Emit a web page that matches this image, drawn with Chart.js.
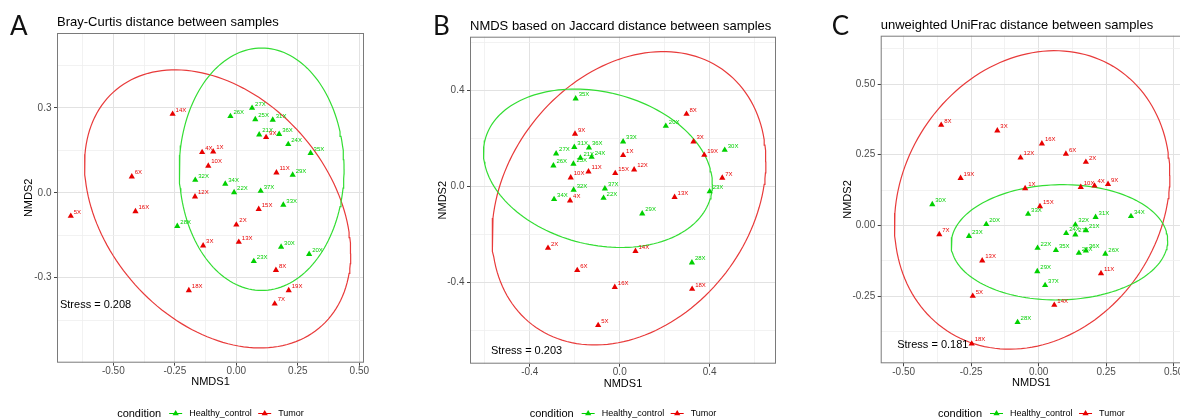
<!DOCTYPE html>
<html>
<head>
<meta charset="utf-8">
<script src="https://cdn.jsdelivr.net/npm/chart.js@4.4.1/dist/chart.umd.min.js"></script>
<style>
html, body { margin:0; padding:0; background:#fff; overflow:hidden; width:1180px; height:418px; }
canvas { position:absolute; top:0; }
</style>
</head>
<body>
<canvas id="cA" width="380" height="418" style="left:0"></canvas>
<canvas id="cB" width="400" height="418" style="left:380px"></canvas>
<canvas id="cC" width="410" height="418" style="left:780px"></canvas>
<script>
// NMDS ordinations, three distance metrics. Rows are [sample, NMDS1, NMDS2].
const A_HEALTHY = [
  ['26X',-0.024,0.270],['27X',0.064,0.299],['25X',0.077,0.259],['31X',0.148,0.257],
  ['21X',0.093,0.205],['36X',0.174,0.207],['24X',0.211,0.171],['35X',0.302,0.140],
  ['29X',0.229,0.063],['32X',-0.167,0.045],['34X',-0.045,0.031],['22X',-0.009,0.001],
  ['37X',0.099,0.006],['33X',0.191,-0.043],['28X',-0.240,-0.118],['30X',0.182,-0.191],
  ['20X',0.296,-0.217],['23X',0.071,-0.242]];
const A_TUMOR = [
  ['14X',-0.259,0.278],['4X',-0.139,0.143],['1X',-0.094,0.145],['10X',-0.114,0.095],
  ['6X',-0.425,0.057],['12X',-0.168,-0.014],['5X',-0.673,-0.082],['16X',-0.410,-0.066],
  ['3X',-0.135,-0.187],['9X',0.121,0.196],['11X',0.163,0.071],['15X',0.091,-0.058],
  ['2X',0.000,-0.113],['13X',0.010,-0.174],['8X',0.161,-0.273],['18X',-0.193,-0.345],
  ['19X',0.213,-0.345],['7X',0.156,-0.392]];

const B_HEALTHY = [
  ['35X',-0.196,0.365],['33X',0.015,0.186],['27X',-0.283,0.136],['31X',-0.202,0.163],
  ['36X',-0.137,0.161],['21X',-0.175,0.118],['24X',-0.125,0.122],['26X',-0.295,0.086],
  ['25X',-0.206,0.093],['32X',-0.205,-0.015],['37X',-0.066,-0.010],['34X',-0.292,-0.054],
  ['22X',-0.072,-0.049],['20X',0.205,0.251],['30X',0.467,0.151],['23X',0.400,-0.022],
  ['29X',0.100,-0.114],['28X',0.321,-0.318]];
const B_TUMOR = [
  ['9X',-0.199,0.218],['1X',0.015,0.129],['10X',-0.218,0.036],['11X',-0.139,0.061],
  ['15X',-0.020,0.054],['12X',0.064,0.069],['4X',-0.221,-0.060],['8X',0.297,0.301],
  ['3X',0.328,0.186],['19X',0.376,0.130],['7X',0.456,0.035],['13X',0.244,-0.045],
  ['2X',-0.319,-0.257],['14X',0.070,-0.270],['6X',-0.189,-0.350],['16X',-0.022,-0.420],
  ['18X',0.322,-0.428],['5X',-0.096,-0.579]];

const C_HEALTHY = [
  ['30X',-0.394,0.074],['20X',-0.194,0.004],['23X',-0.258,-0.038],['33X',-0.039,0.040],
  ['31X',0.211,0.029],['34X',0.342,0.032],['32X',0.136,0.002],['24X',0.102,-0.028],
  ['27X',0.136,-0.033],['21X',0.175,-0.018],['22X',-0.004,-0.080],['35X',0.064,-0.088],
  ['25X',0.149,-0.098],['36X',0.175,-0.090],['26X',0.247,-0.101],['29X',-0.005,-0.163],
  ['37X',0.024,-0.212],['28X',-0.078,-0.343]];
const C_TUMOR = [
  ['8X',-0.361,0.355],['19X',-0.289,0.167],['7X',-0.368,-0.032],['3X',-0.153,0.335],
  ['16X',0.012,0.289],['12X',-0.067,0.239],['6X',0.101,0.253],['2X',0.175,0.224],
  ['1X',-0.050,0.131],['10X',0.156,0.135],['4X',0.207,0.140],['9X',0.257,0.146],
  ['15X',0.005,0.067],['13X',-0.209,-0.125],['5X',-0.244,-0.250],['14X',0.058,-0.282],
  ['18X',-0.248,-0.419],['11X',0.231,-0.170]];

// confidence ellipses: [cx, cy, rx, ry, x-offset of top point / rx]
const A_ELL_HEALTHY = [0.103, 0.083, 0.335, 0.428, 0.00];
const A_ELL_TUMOR   = [-0.076, -0.057, 0.541, 0.491, -0.32];
const B_ELL_HEALTHY = [-0.097, 0.075, 0.509, 0.330, -0.20];
const B_ELL_TUMOR   = [0.041, -0.050, 0.609, 0.611, 0.25];
const C_ELL_HEALTHY = [0.077, -0.060, 0.401, 0.204, 0.03];
const C_ELL_TUMOR   = [-0.024, 0.090, 0.510, 0.528, 0.165];

const STRESS = [0.208, 0.203, 0.181];
const TITLES = ['Bray-Curtis distance between samples',
                'NMDS based on Jaccard distance between samples',
                'unweighted UniFrac distance between samples'];
const A_XTICKS = [-0.5, -0.25, 0, 0.25, 0.5], A_YTICKS = [-0.3, 0, 0.3];
const B_XTICKS = [-0.4, 0, 0.4],              B_YTICKS = [-0.4, 0, 0.4];
const C_XTICKS = [-0.5, -0.25, 0, 0.25, 0.5], C_YTICKS = [-0.25, 0, 0.25, 0.5];
const GROUPS = ['Healthy_control', 'Tumor'];

const FONT = '"Liberation Sans", Arial, sans-serif';
const GREEN = '#00d000', RED = '#e80000';
const GREEN_LINE = '#33dd33', RED_LINE = '#e83a3a';
const PT_R = 3.6;

function ellipsePts(e) {
  const [cx, cy, rx, ry, s] = e, phi = Math.asin(s), pts = [];
  for (let i = 0; i <= 160; i++) {
    const t = i / 160 * 2 * Math.PI;
    pts.push({ x: cx + rx * Math.cos(t), y: cy + ry * Math.sin(t + phi) });
  }
  return pts;
}

// major ticks plus ggplot-style minor grid halfway between them
function gridTicks(major, min, max) {
  const d = major[1] - major[0], out = [];
  major.forEach(v => out.push({ value: v, main: true }));
  major.concat([major[major.length - 1] + d]).forEach(v => out.push({ value: v - d / 2, main: false }));
  return out.filter(t => t.value >= min && t.value <= max).sort((a, b) => a.value - b.value);
}

function axis(isX, min, max, major, dec, size, title, titlePad) {
  return {
    type: 'linear', min, max,
    afterBuildTicks: s => { s.ticks = gridTicks(major, min, max); },
    afterFit: s => {
      if (isX) s.height = size; else s.width = size;
      s.paddingLeft = s.paddingRight = s.paddingTop = s.paddingBottom = 0;
    },
    ticks: { autoSkip: false, maxRotation: 0, color: '#4d4d4d', padding: isX ? 0 : 2.5,
             font: { size: 10, family: FONT },
             callback: (v, i, ts) => ts[i].main ? Number(v).toFixed(dec) : '' },
    grid: {
      color: c => c.tick && c.tick.main ? '#e2e2e2' : '#efefef',
      lineWidth: c => c.tick && c.tick.main ? 1 : 0.8,
      tickLength: 3,
      tickColor: c => c.tick && c.tick.main ? '#444' : 'rgba(0,0,0,0)',
    },
    border: { display: false },
    title: { display: true, text: title, color: '#000', font: { size: 11, family: FONT },
             padding: isX ? { top: 0, bottom: titlePad } : { top: titlePad, bottom: 0 } },
  };
}

function tri(ctx, x, y, r) {
  ctx.beginPath();
  ctx.moveTo(x, y - r);
  ctx.lineTo(x + r * Math.sin(2 * Math.PI / 3), y + r / 2);
  ctx.lineTo(x - r * Math.sin(2 * Math.PI / 3), y + r / 2);
  ctx.closePath(); ctx.fill();
}

function panel(id, p) {
  const deco = {
    id: 'deco',
    afterDraw(chart) {
      const { ctx, chartArea: a, scales: { x, y } } = chart;
      ctx.save();
      ctx.strokeStyle = '#7a7a7a'; ctx.lineWidth = 1;
      ctx.strokeRect(a.left + 0.5, a.top + 0.5, a.right - a.left - 1, a.bottom - a.top - 1);

      ctx.font = '6px ' + FONT; ctx.textAlign = 'left'; ctx.textBaseline = 'middle';
      [[p.healthy, GREEN], [p.tumor, RED]].forEach(([rows, col]) => {
        ctx.fillStyle = col;
        rows.forEach(r => ctx.fillText(r[0], x.getPixelForValue(r[1]) + 3, y.getPixelForValue(r[2]) - 4));
      });

      ctx.fillStyle = '#000';
      ctx.font = '11px ' + FONT;
      ctx.fillText('Stress = ' + p.stress.toFixed(3), x.getPixelForValue(p.stressAt[0]), y.getPixelForValue(p.stressAt[1]));

      ctx.textBaseline = 'alphabetic';
      ctx.font = '13px ' + FONT;
      ctx.fillText(p.title, a.left, a.top - 7);
      ctx.fillStyle = '#111';
      ctx.font = '26px Lato, "Open Sans", sans-serif';
      ctx.fillText(p.letter, p.letterX, 35);

      // legend under the panel
      const ly = 413.5, fT = '11px ' + FONT, fK = '9px ' + FONT;
      ctx.font = fT; const wT = ctx.measureText('condition').width;
      ctx.font = fK;
      const w1 = ctx.measureText(GROUPS[0]).width, w2 = ctx.measureText(GROUPS[1]).width;
      const total = wT + 8 + 13 + 7 + w1 + 6.5 + 13 + 7 + w2;
      let lx = (a.left + a.right) / 2 - total / 2;
      ctx.textBaseline = 'middle';
      ctx.font = fT; ctx.fillStyle = '#000'; ctx.fillText('condition', lx, ly); lx += wT + 8;
      [[GROUPS[0], GREEN, w1], [GROUPS[1], RED, w2]].forEach(([t, col, w]) => {
        ctx.strokeStyle = col; ctx.fillStyle = col; ctx.lineWidth = 1;
        ctx.beginPath(); ctx.moveTo(lx, ly); ctx.lineTo(lx + 13, ly); ctx.stroke();
        tri(ctx, lx + 6.5, ly, PT_R);
        lx += 13 + 7;
        ctx.font = fK; ctx.fillStyle = '#000'; ctx.fillText(t, lx, ly);
        lx += w + 6.5;
      });
      ctx.restore();
    },
  };

  const ellSet = (e, col) => ({ data: ellipsePts(e), showLine: true, pointRadius: 0,
                                borderColor: col, borderWidth: 1.2, fill: false });
  const ptSet = (rows, col) => ({ data: rows.map(r => ({ x: r[1], y: r[2] })), pointStyle: 'triangle',
                                  pointRadius: PT_R, backgroundColor: col, borderWidth: 0 });

  return new Chart(document.getElementById(id), {
    type: 'scatter',
    data: { datasets: [ptSet(p.healthy, GREEN), ptSet(p.tumor, RED),
                       ellSet(p.ellH, GREEN_LINE), ellSet(p.ellT, RED_LINE)] },
    options: {
      responsive: false, animation: false, events: [],
      layout: { padding: p.pad },
      plugins: { legend: { display: false }, tooltip: { enabled: false } },
      scales: {
        x: axis(true, p.xr[0], p.xr[1], p.xt, p.xdec, p.xh, 'NMDS1', p.xtp),
        y: axis(false, p.yr[0], p.yr[1], p.yt, p.ydec, p.yw, 'NMDS2', p.ytp),
      },
    },
    plugins: [deco],
  });
}

panel('cA', { healthy: A_HEALTHY, tumor: A_TUMOR, ellH: A_ELL_HEALTHY, ellT: A_ELL_TUMOR,
  xr: [-0.729, 0.519], yr: [-0.600, 0.564], xt: A_XTICKS, yt: A_YTICKS, xdec: 2, ydec: 1,
  pad: { left: 0, top: 33, right: 16, bottom: 0 }, yw: 57, xh: 55.3, xtp: 29.4, ytp: 22.4,
  stress: STRESS[0], stressAt: [-0.717, -0.397], title: TITLES[0], letter: 'A', letterX: 10 });

panel('cB', { healthy: B_HEALTHY, tumor: B_TUMOR, ellH: B_ELL_HEALTHY, ellT: B_ELL_TUMOR,
  xr: [-0.666, 0.695], yr: [-0.739, 0.623], xt: B_XTICKS, yt: B_YTICKS, xdec: 1, ydec: 1,
  pad: { left: 0, top: 36.7, right: 2.7, bottom: 0 }, yw: 90, xh: 54.3, xtp: 27.1, ytp: 55.9,
  stress: STRESS[1], stressAt: [-0.573, -0.686], title: TITLES[1], letter: 'B', letterX: 53 });

panel('cC', { healthy: C_HEALTHY, tumor: C_TUMOR, ellH: C_ELL_HEALTHY, ellT: C_ELL_TUMOR,
  xr: [-0.585, 0.531], yr: [-0.488, 0.671], xt: C_XTICKS, yt: C_YTICKS, xdec: 2, ydec: 2,
  pad: { left: 0, top: 35.7, right: 8, bottom: 0 }, yw: 100.7, xh: 54.7, xtp: 28.1, ytp: 60.9,
  stress: STRESS[2], stressAt: [-0.524, -0.423], title: TITLES[2], letter: 'C', letterX: 51.7 });
</script>
</body>
</html>
